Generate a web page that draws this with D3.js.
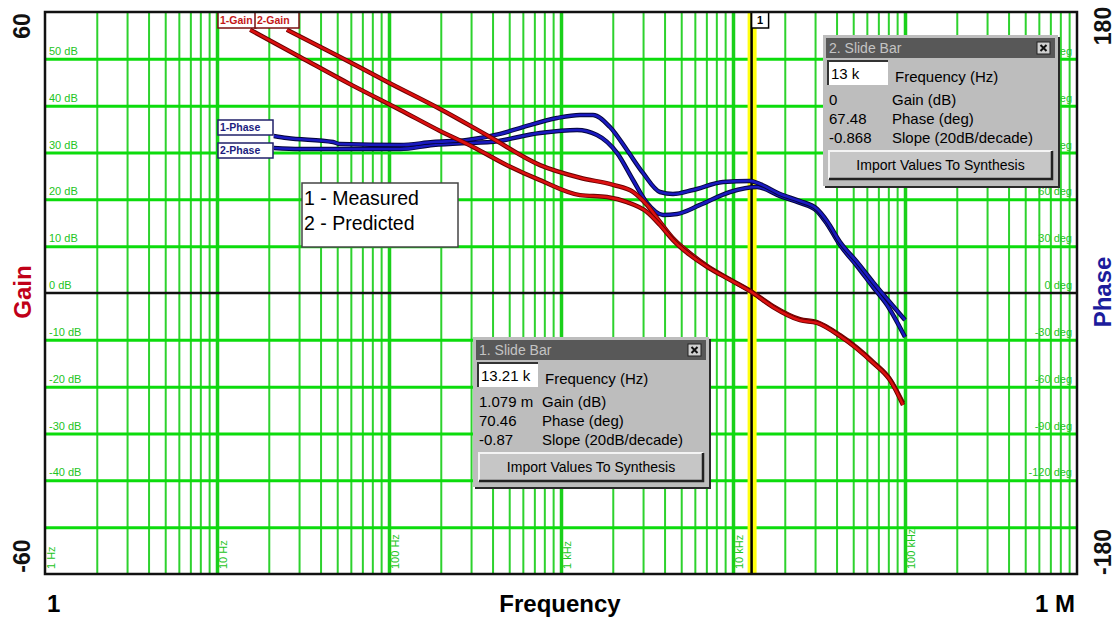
<!DOCTYPE html>
<html>
<head>
<meta charset="utf-8">
<script src="https://d3js.org/d3.v7.min.js"></script>
<style>
  body { margin: 0; background: #fff; }
  svg { display: block; font-family: "Liberation Sans", Arial, sans-serif; }
</style>
</head>
<body>
<div id="chart"></div>
<script>
// measured / predicted loop gain (dB) vs frequency (Hz)
const gain1Freq = [15.6, 30.4, 59.3, 116, 198, 308, 485, 755, 1290, 1851, 2419, 3162, 3763, 4479, 5623, 7061, 9608, 13070, 17085, 24510, 30790, 41900, 65160, 81800, 97400];
const gain1Db   = [56.2, 50.4, 44.6, 39.1, 34.6, 31.2, 27.3, 24.1, 20.9, 20.5, 19.4, 17.3, 14.5, 11.3, 8.1, 5.6, 2.8, 0, -3.0, -5.8, -6.4, -9.2, -14.9, -18.6, -23.9];
const gain2Freq = [25.5, 51.9, 101, 198, 387, 755, 1290, 2006, 2622, 3162, 3763, 4479, 5623, 7061, 9608, 13070, 17085, 24510, 30790, 41900, 65160, 81800, 97400];
const gain2Db   = [56.2, 50.4, 44.8, 39.3, 33.3, 27.3, 24.6, 23.1, 21.6, 18.8, 15.2, 11.7, 8.5, 5.8, 2.9, 0.1, -2.8, -5.6, -6.2, -9.0, -14.7, -18.4, -23.5];

// phase (deg)
const phase1Freq = [21.4, 25.5, 47.3, 51.9, 116, 180, 284, 442, 601, 948, 1290, 1535, 1927, 2419, 2997, 3763, 4479, 5853, 8748, 12554, 14355, 18763, 24510, 30790, 35204, 41900, 52600, 65160, 78620, 100000];
const phase1Deg  = [100.6, 99.3, 96.7, 95.4, 94.8, 96.7, 98.0, 101.9, 106.3, 112.1, 114.0, 114.0, 106.3, 91.6, 76.9, 64.7, 63.4, 66.0, 71.1, 71.8, 69.8, 63.4, 58.9, 53.8, 46.1, 32.7, 19.9, 7.0, -3.8, -17.3];
const phase2Freq = [21.4, 30.4, 116, 180, 284, 387, 755, 1239, 1619, 2117, 2622, 3162, 3918, 4725, 6429, 9608, 13788, 18763, 24510, 30790, 35204, 41900, 52600, 65160, 78620, 100000];
const phase2Deg  = [92.9, 92.2, 92.2, 94.8, 96.1, 96.7, 102.5, 104.4, 101.2, 89.7, 72.4, 57.7, 50.0, 50.6, 56.4, 64.7, 67.9, 62.1, 57.7, 52.5, 44.2, 30.7, 17.3, 3.8, -7.7, -28.2];

const gainGrid = [-50, -40, -30, -20, -10, 10, 20, 30, 40, 50];
const gainLabels = [50, 40, 30, 20, 10, 0, -10, -20, -30, -40];
const phaseLabels = [150, 120, 90, 60, 30, 0, -30, -60, -90, -120];
const decades = [1, 10, 100, 1000, 10000, 100000];
const decadeNames = ['1 Hz', '10 Hz', '100 Hz', '1 kHz', '10 kHz', '100 kHz'];
const cursorFreq = 13000;

const W = 1117, H = 618;
const x0 = 45, x1 = 1077, y0 = 12, y1 = 574;

const x = d3.scaleLog().domain([1, 1e6]).range([x0, x1]);
const yG = d3.scaleLinear().domain([-60, 60]).range([y1, y0]);
const yP = d3.scaleLinear().domain([-180, 180]).range([y1, y0]);

const svg = d3.select('#chart').append('svg').attr('width', W).attr('height', H);
svg.append('rect').attr('width', W).attr('height', H).attr('fill', '#fff');

// vertical grid (minor + decade lines)
const minorTicks = [];
for (let d = 0; d < 6; d++) for (let k = 2; k <= 9; k++) minorTicks.push(k * Math.pow(10, d));

const vMinor = svg.append('g').attr('transform', `translate(0,${y1})`)
  .call(d3.axisBottom(x).tickValues(minorTicks).tickSize(-(y1 - y0)).tickFormat(''));
vMinor.select('.domain').remove();
vMinor.selectAll('line').attr('stroke', '#2ed22e').attr('stroke-width', 2);

const vMajor = svg.append('g').attr('transform', `translate(0,${y1})`)
  .call(d3.axisBottom(x).tickValues(decades.slice(1)).tickSize(-(y1 - y0)).tickFormat(''));
vMajor.select('.domain').remove();
vMajor.selectAll('line').attr('stroke', '#1ad01a').attr('stroke-width', 3.5);

// horizontal grid
const hGrid = svg.append('g').attr('transform', `translate(${x0},0)`)
  .call(d3.axisLeft(yG).tickValues(gainGrid).tickSize(-(x1 - x0)).tickFormat(''));
hGrid.select('.domain').remove();
hGrid.selectAll('line').attr('stroke', '#0cdc0c').attr('stroke-width', 3);

// green grid labels
svg.append('g').selectAll('text').data(gainLabels).join('text')
  .attr('x', x0 + 4).attr('y', d => yG(d) - 4)
  .attr('fill', '#22c422').attr('font-size', 11)
  .text(d => d + ' dB');
svg.append('g').selectAll('text').data(phaseLabels).join('text')
  .attr('x', x1 - 5).attr('y', d => yP(d) - 4)
  .attr('text-anchor', 'end')
  .attr('fill', '#22c422').attr('font-size', 11)
  .text(d => d + ' deg');
svg.append('g').selectAll('text').data(decades).join('text')
  .attr('transform', d => `translate(${x(d) + 10},${y1 - 5}) rotate(-90)`)
  .attr('fill', '#22c422').attr('font-size', 11)
  .text((d, i) => decadeNames[i]);

// zero line
svg.append('line').attr('x1', x0).attr('x2', x1).attr('y1', yG(0)).attr('y2', yG(0))
  .attr('stroke', '#111').attr('stroke-width', 2.5);

// cursor
const cx = x(cursorFreq);
svg.append('rect').attr('x', cx - 5).attr('y', y0).attr('width', 9).attr('height', y1 - y0).attr('fill', '#ffff10');
svg.append('line').attr('x1', cx - 1).attr('x2', cx - 1).attr('y1', y0).attr('y2', y1)
  .attr('stroke', '#000').attr('stroke-width', 2.5);
svg.append('rect').attr('x', cx - 1).attr('y', y0).attr('width', 17).attr('height', 16)
  .attr('fill', '#fff').attr('stroke', '#000').attr('stroke-width', 1.5);
svg.append('text').attr('x', cx + 7.5).attr('y', y0 + 12).attr('text-anchor', 'middle')
  .attr('font-size', 11).attr('font-weight', 'bold').text('1');

// curves
function curve(fr, vals, ys, dark, col) {
  const pts = fr.map((f, i) => [x(f), ys(vals[i])]);
  const line = d3.line().curve(d3.curveMonotoneX);
  svg.append('path').attr('d', line(pts)).attr('fill', 'none')
    .attr('stroke', dark).attr('stroke-width', 4.5).attr('stroke-linejoin', 'round');
  svg.append('path').attr('d', line(pts)).attr('fill', 'none')
    .attr('stroke', col).attr('stroke-width', 2.6).attr('stroke-linejoin', 'round');
}
curve(phase2Freq, phase2Deg, yP, '#05053a', '#1a1ac0');
curve(phase1Freq, phase1Deg, yP, '#05053a', '#1a1ac0');
curve(gain2Freq, gain2Db, yG, '#6a0000', '#dc1010');
curve(gain1Freq, gain1Db, yG, '#6a0000', '#dc1010');

// curve tags
function tag(bx, by, bw, bh, txt, stroke, fill) {
  svg.append('rect').attr('x', bx).attr('y', by).attr('width', bw).attr('height', bh)
    .attr('fill', '#fff').attr('stroke', stroke).attr('stroke-width', 1.5);
  svg.append('text').attr('x', bx + 2).attr('y', by + bh - 4)
    .attr('font-size', 10.5).attr('font-weight', 'bold').attr('fill', fill).text(txt);
}
tag(218, 12, 38, 16, '1-Gain', '#7a1010', '#c41818');
tag(255, 12, 44, 16, '2-Gain', '#7a1010', '#c41818');
tag(218, 120, 55, 15, '1-Phase', '#20206a', '#1c1c80');
tag(218, 143, 55, 15, '2-Phase', '#20206a', '#1c1c80');

// legend
svg.append('rect').attr('x', 302).attr('y', 183).attr('width', 156).attr('height', 64)
  .attr('fill', '#fff').attr('stroke', '#444').attr('stroke-width', 1.5);
svg.append('text').attr('x', 304).attr('y', 205).attr('font-size', 19.5).text('1 - Measured');
svg.append('text').attr('x', 304).attr('y', 230).attr('font-size', 19.5).text('2 - Predicted');

// slide bar windows
function slideBar(wx, wy, ww, wh, title, freq, rows) {
  const g = svg.append('g');
  g.append('rect').attr('x', wx + 2).attr('y', wy + 2).attr('width', ww).attr('height', wh).attr('fill', '#2a2a2a');
  g.append('rect').attr('x', wx).attr('y', wy).attr('width', ww).attr('height', wh).attr('fill', '#bdbdbd');
  g.append('rect').attr('x', wx + 3).attr('y', wy + 3).attr('width', ww - 6).attr('height', 20).attr('fill', '#585858');
  g.append('text').attr('x', wx + 6).attr('y', wy + 18).attr('font-size', 14).attr('fill', '#c4c4c4').text(title);
  // close button with a drawn cross
  const bx = wx + ww - 21, by0 = wy + 7;
  g.append('rect').attr('x', bx).attr('y', by0).attr('width', 13).attr('height', 12)
    .attr('fill', '#d0d0d0').attr('stroke', '#222');
  g.append('path').attr('d', `M${bx + 3.5},${by0 + 3}L${bx + 9.5},${by0 + 9}M${bx + 9.5},${by0 + 3}L${bx + 3.5},${by0 + 9}`)
    .attr('stroke', '#111').attr('stroke-width', 2);
  g.append('rect').attr('x', wx + 5).attr('y', wy + 26).attr('width', 60).attr('height', 24).attr('fill', '#fff');
  g.append('path').attr('d', `M${wx + 5},${wy + 50}V${wy + 26}H${wx + 65}`).attr('fill', 'none')
    .attr('stroke', '#333').attr('stroke-width', 2);
  g.append('text').attr('x', wx + 8).attr('y', wy + 44).attr('font-size', 15).text(freq);
  g.append('text').attr('x', wx + 72).attr('y', wy + 47).attr('font-size', 15).text('Frequency (Hz)');
  rows.forEach((r, i) => {
    const ty = wy + 70 + i * 19;
    g.append('text').attr('x', wx + 6).attr('y', ty).attr('font-size', 15).text(r[0]);
    g.append('text').attr('x', wx + 69).attr('y', ty).attr('font-size', 15).text(r[1]);
  });
  const by = wy + 116;
  g.append('rect').attr('x', wx + 6).attr('y', by).attr('width', ww - 12).attr('height', 28).attr('fill', '#c6c6c6');
  g.append('path').attr('d', `M${wx + 6},${by + 28}V${by}H${wx + ww - 6}`).attr('fill', 'none')
    .attr('stroke', '#f4f4f4').attr('stroke-width', 2);
  g.append('path').attr('d', `M${wx + 6},${by + 28}H${wx + ww - 6}V${by}`).attr('fill', 'none')
    .attr('stroke', '#222').attr('stroke-width', 2.5);
  g.append('text').attr('x', wx + ww / 2).attr('y', by + 19).attr('text-anchor', 'middle')
    .attr('font-size', 14).text('Import Values To Synthesis');
}
slideBar(823, 35, 235, 151, '2. Slide Bar', '13 k',
  [['0', 'Gain (dB)'], ['67.48', 'Phase (deg)'], ['-0.868', 'Slope (20dB/decade)']]);
slideBar(473, 337, 236, 150, '1. Slide Bar', '13.21 k',
  [['1.079 m', 'Gain (dB)'], ['70.46', 'Phase (deg)'], ['-0.87', 'Slope (20dB/decade)']]);

// frame
svg.append('rect').attr('x', x0).attr('y', y0).attr('width', x1 - x0).attr('height', y1 - y0)
  .attr('fill', 'none').attr('stroke', '#111').attr('stroke-width', 2.5);

// outer axis titles
function vtext(tx, ty, txt, col, size) {
  svg.append('text').attr('transform', `translate(${tx},${ty}) rotate(-90)`)
    .attr('text-anchor', 'middle').attr('font-size', size).attr('font-weight', 'bold')
    .attr('fill', col).text(txt);
}
vtext(30, 26, '60', '#111', 23);
vtext(30, 556, '-60', '#111', 23);
vtext(31, 292, 'Gain', '#c00018', 24);
vtext(1111, 26, '180', '#111', 23);
vtext(1111, 552, '-180', '#111', 23);
vtext(1111, 292, 'Phase', '#1c1c9c', 24);

svg.append('text').attr('x', 47).attr('y', 612).attr('font-size', 24).attr('font-weight', 'bold').text('1');
svg.append('text').attr('x', 560).attr('y', 612).attr('text-anchor', 'middle')
  .attr('font-size', 24).attr('font-weight', 'bold').text('Frequency');
svg.append('text').attr('x', 1075).attr('y', 612).attr('text-anchor', 'end')
  .attr('font-size', 24).attr('font-weight', 'bold').text('1 M');
</script>
</body>
</html>
